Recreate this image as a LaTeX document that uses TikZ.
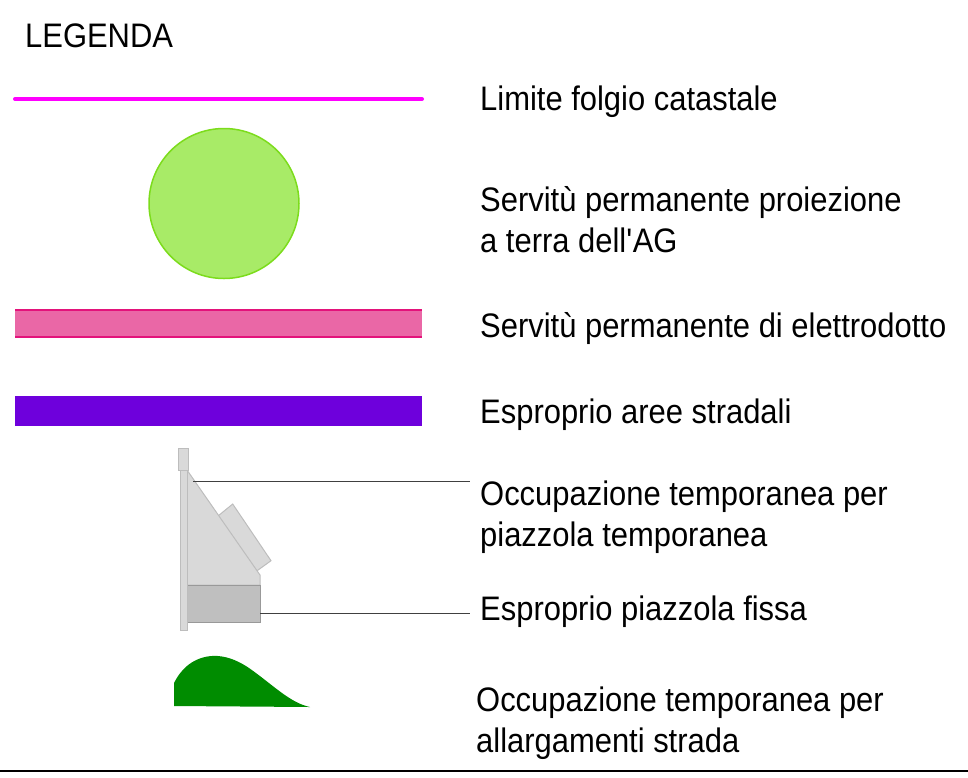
\documentclass[tikz,border=0pt]{standalone}
\usepackage{fontspec}
\setmainfont{Liberation Sans}[FakeStretch=0.91]
\usepackage{tikz}

\definecolor{folio}{HTML}{FF00FF}
\definecolor{agfill}{HTML}{A8EB67}
\definecolor{agline}{HTML}{7CDC1C}
\definecolor{elfill}{HTML}{EA67A6}
\definecolor{elline}{HTML}{E3137B}
\definecolor{strada}{HTML}{6E00DC}
\definecolor{pzlight}{HTML}{D9D9D9}
\definecolor{pzlightline}{HTML}{BDBDBD}
\definecolor{pzdark}{HTML}{BFBFBF}
\definecolor{pzdarkline}{HTML}{999999}
\definecolor{allarg}{HTML}{008C00}

\tikzset{
  lbl/.style={anchor=base west, inner sep=0pt, align=left, font=\fontsize{34}{41}\selectfont},
  leader/.style={draw=black!75, line width=1pt},
  pzl/.style={fill=pzlight, draw=pzlightline, line width=1pt},
}

\begin{document}
\begin{tikzpicture}[x=1pt,y=-1pt]

\useasboundingbox (0,0) rectangle (968,777);

\node [lbl] (legenda) at (25,47) {LEGENDA};

% limite foglio
\draw [folio, line width=4pt, line cap=round] (15,99) -- (422,99);
\node [lbl] (limite) at (480,110) {Limite folgio catastale};

% proiezione AG
\filldraw [fill=agfill, draw=agline, line width=1.5pt] (224,203.5) circle (75);
\node [lbl] (ag) at (480,252) {Servitù permanente proiezione\\a terra dell\textquotesingle AG};

% elettrodotto
\fill [elfill] (15,309) rectangle (422,338);
\draw [elline, line width=2pt] (15,310) -- (422,310) (15,337) -- (422,337);
\node [lbl] (elettro) at (480,337) {Servitù permanente di elettrodotto};

% aree stradali
\fill [strada] (15,396) rectangle (422,426);
\node [lbl] (stradali) at (480,423) {Esproprio aree stradali};

% piazzole
\filldraw [pzl] (218,516) -- (232.7,504) -- (271,560.7) -- (256.7,571) -- cycle;
\filldraw [pzl] (187,470) -- (260,575) -- (260,585) -- (187,585) -- cycle;
\filldraw [fill=pzdark, draw=pzdarkline, line width=1pt] (187,585) rectangle (260,622);
\filldraw [pzl] (180,470) rectangle (187,630);
\filldraw [pzl] (178.5,448) rectangle (188,470);

\coordinate (pztemp) at (193,481);
\coordinate (pzfix) at (260,613);
\coordinate (pztempend) at (470,481);
\coordinate (pzfixend) at (470,613);
\draw [leader] (pztemp) -- (pztempend);
\draw [leader] (pzfix) -- (pzfixend);

\node [lbl] (temp) at (480,546) {Occupazione temporanea per\\piazzola temporanea};
\node [lbl] (fissa) at (480,620) {Esproprio piazzola fissa};

% allargamenti
\fill [allarg] (174,706) -- (174,683) .. controls (185,661) and (203,655) .. (218,656)
  .. controls (230,657) and (240,662) .. (249,668)
  .. controls (272,684) and (290,703) .. (310,707) -- cycle;
\node [lbl] (allarg) at (476,752) {Occupazione temporanea per\\allargamenti strada};

\draw [line width=2pt] (0,770.5) -- (968,770.5);

\end{tikzpicture}
\end{document}
